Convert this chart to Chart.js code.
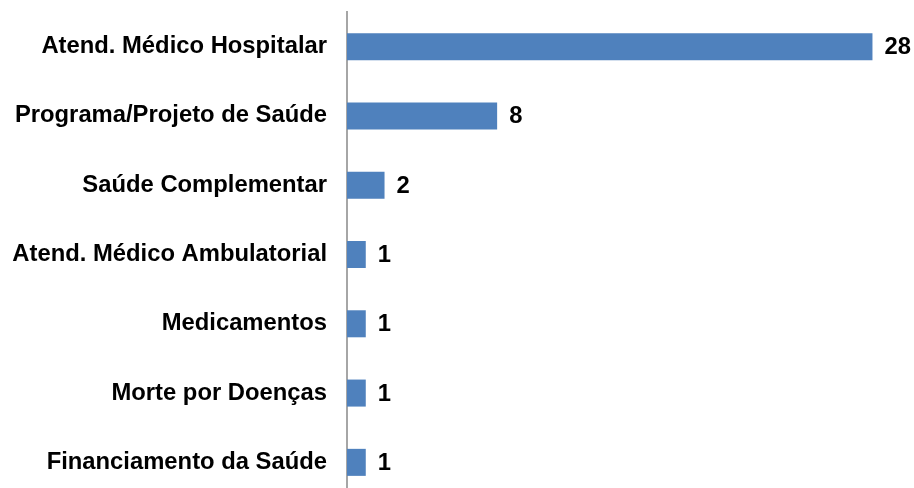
<!DOCTYPE html>
<html>
<head>
<meta charset="utf-8">
<script src="https://cdn.jsdelivr.net/npm/chart.js@4/dist/chart.umd.min.js"></script>
<style>
  html, body { margin: 0; padding: 0; background: #fff; overflow: hidden; }
  #wrap { position: relative; width: 914px; height: 497px; }
</style>
</head>
<body>
<div id="wrap"><canvas id="grafico"></canvas></div>
<script>
// DADOS
const categorias = [
  "Atend. Médico Hospitalar",
  "Programa/Projeto de Saúde",
  "Saúde Complementar",
  "Atend. Médico Ambulatorial",
  "Medicamentos",
  "Morte por Doenças",
  "Financiamento da Saúde"
];
const valores = [28, 8, 2, 1, 1, 1, 1];

const fonte = { family: "'Liberation Sans', Arial, sans-serif", size: 23.8, weight: "bold" };

// RÓTULOS DE VALOR NA PONTA DAS BARRAS
const rotulos = {
  id: "rotulos",
  afterDatasetsDraw(chart) {
    const ctx = chart.ctx;
    const meta = chart.getDatasetMeta(0);
    ctx.save();
    ctx.font = "bold 23.8px 'Liberation Sans', Arial, sans-serif";
    ctx.fillStyle = "#000";
    ctx.textAlign = "left";
    ctx.textBaseline = "middle";
    meta.data.forEach((bar, i) => {
      ctx.fillText(valores[i], bar.x + 12, bar.y + 1);
    });
    ctx.restore();
  }
};

new Chart(document.getElementById("grafico"), {
  type: "bar",
  data: {
    labels: categorias,
    datasets: [{
      data: valores,
      backgroundColor: "#4F81BD",
      barPercentage: 0.39,
      categoryPercentage: 1
    }]
  },
  options: {
    indexAxis: "y",
    responsive: true,
    maintainAspectRatio: false,
    animation: false,
    layout: { padding: { top: 12, right: 4, bottom: 0, left: 0 } },
    plugins: { legend: { display: false }, tooltip: { enabled: false } },
    scales: {
      x: { display: false, min: 0, max: 30 },
      y: {
        afterFit: s => { s.width = 347; s.paddingTop = 0; s.paddingBottom = 0; },
        grid: { display: false, drawTicks: false },
        border: { display: true, color: "#a6a6a6", width: 2 },
        ticks: { color: "#000", font: fonte, padding: 20 }
      }
    }
  },
  plugins: [rotulos]
});
</script>
</body>
</html>
